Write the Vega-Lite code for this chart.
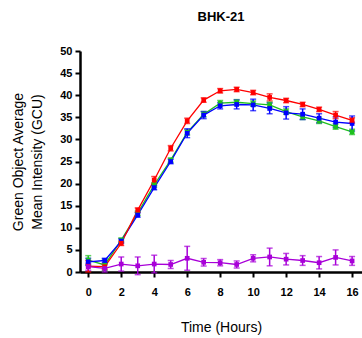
{
  "$schema": "https://vega.github.io/schema/vega-lite/v6.json",
  "autosize": "none",
  "padding": {"left": 80, "top": 51, "right": 0, "bottom": 66},
  "width": 282,
  "height": 221,
  "background": "white",
  "title": {"text": "BHK-21", "font": "Liberation Sans", "fontSize": 13, "fontWeight": "bold", "color": "black", "anchor": "middle", "offset": 21},
  "data": {"values": [
    {"s":"green","t":0,"m":2.7,"e":1.0},{"s":"green","t":1,"m":1.6,"e":1.3},{"s":"green","t":2,"m":7.2,"e":0.5},{"s":"green","t":3,"m":13.3,"e":0.5},{"s":"green","t":4,"m":19.7,"e":0.5},{"s":"green","t":5,"m":25.3,"e":0.5},{"s":"green","t":6,"m":31.6,"e":0.6},{"s":"green","t":7,"m":35.7,"e":0.6},{"s":"green","t":8,"m":38.2,"e":0.6},{"s":"green","t":9,"m":38.4,"e":0.6},{"s":"green","t":10,"m":38.1,"e":0.6},{"s":"green","t":11,"m":37.8,"e":0.6},{"s":"green","t":12,"m":36.3,"e":0.6},{"s":"green","t":13,"m":35.1,"e":0.6},{"s":"green","t":14,"m":34.2,"e":0.6},{"s":"green","t":15,"m":32.9,"e":0.6},{"s":"green","t":16,"m":31.7,"e":0.6},
    {"s":"blue","t":0,"m":2.3,"e":0.8},{"s":"blue","t":1,"m":2.6,"e":0.5},{"s":"blue","t":2,"m":7.0,"e":0.5},{"s":"blue","t":3,"m":12.9,"e":0.5},{"s":"blue","t":4,"m":19.1,"e":0.5},{"s":"blue","t":5,"m":25.0,"e":0.5},{"s":"blue","t":6,"m":31.4,"e":1.0},{"s":"blue","t":7,"m":35.5,"e":0.8},{"s":"blue","t":8,"m":37.6,"e":0.7},{"s":"blue","t":9,"m":37.9,"e":1.0},{"s":"blue","t":10,"m":37.8,"e":1.3},{"s":"blue","t":11,"m":37.0,"e":1.2},{"s":"blue","t":12,"m":36.0,"e":1.4},{"s":"blue","t":13,"m":35.7,"e":1.2},{"s":"blue","t":14,"m":34.8,"e":1.0},{"s":"blue","t":15,"m":33.9,"e":1.2},{"s":"blue","t":16,"m":33.6,"e":1.7},
    {"s":"red","t":0,"m":1.3,"e":1.3},{"s":"red","t":1,"m":1.2,"e":0.6},{"s":"red","t":2,"m":6.5,"e":0.5},{"s":"red","t":3,"m":14.0,"e":0.5},{"s":"red","t":4,"m":20.8,"e":0.8},{"s":"red","t":5,"m":28.0,"e":0.6},{"s":"red","t":6,"m":34.2,"e":0.6},{"s":"red","t":7,"m":38.9,"e":0.5},{"s":"red","t":8,"m":41.0,"e":0.5},{"s":"red","t":9,"m":41.3,"e":0.5},{"s":"red","t":10,"m":40.6,"e":0.5},{"s":"red","t":11,"m":39.5,"e":0.8},{"s":"red","t":12,"m":38.8,"e":0.5},{"s":"red","t":13,"m":37.9,"e":0.5},{"s":"red","t":14,"m":36.8,"e":0.5},{"s":"red","t":15,"m":35.5,"e":0.8},{"s":"red","t":16,"m":34.3,"e":0.6},
    {"s":"purple","t":0,"m":1.2,"e":0.8},{"s":"purple","t":1,"m":0.8,"e":0.8},{"s":"purple","t":2,"m":1.8,"e":1.6},{"s":"purple","t":3,"m":1.4,"e":2.0},{"s":"purple","t":4,"m":1.8,"e":2.0},{"s":"purple","t":5,"m":1.7,"e":0.9},{"s":"purple","t":6,"m":3.1,"e":2.7},{"s":"purple","t":7,"m":2.2,"e":0.85},{"s":"purple","t":8,"m":2.1,"e":0.7},{"s":"purple","t":9,"m":1.7,"e":0.8},{"s":"purple","t":10,"m":3.1,"e":0.8},{"s":"purple","t":11,"m":3.4,"e":2.0},{"s":"purple","t":12,"m":2.9,"e":1.3},{"s":"purple","t":13,"m":2.6,"e":1.1},{"s":"purple","t":14,"m":2.1,"e":1.4},{"s":"purple","t":15,"m":3.3,"e":1.7},{"s":"purple","t":16,"m":2.5,"e":1.0}
  ]},
  "encoding": {
    "x": {"field": "t", "type": "quantitative",
      "scale": {"domain": [-0.5, 16.6], "nice": false, "zero": false},
      "axis": {"values": [0,2,4,6,8,10,12,14,16], "title": "Time (Hours)", "grid": false,
        "domainColor": "black", "domainWidth": 2.5, "tickColor": "black", "tickWidth": 2, "tickSize": 5,
        "labelFont": "Liberation Sans", "labelFontWeight": "bold", "labelFontSize": 11, "labelColor": "black", "labelPadding": 9,
        "titleFont": "Liberation Sans", "titleFontWeight": "normal", "titleFontSize": 14, "titleColor": "black", "titlePadding": 20, "titleY": 48}},
    "y": {"field": "m", "type": "quantitative",
      "scale": {"domain": [0, 50], "nice": false},
      "axis": {"values": [0,5,10,15,20,25,30,35,40,45,50], "title": ["Green Object Average", "Mean Intensity (GCU)"], "grid": false,
        "domainColor": "black", "domainWidth": 2.5, "tickColor": "black", "tickWidth": 2, "tickSize": 5,
        "labelFont": "Liberation Sans", "labelFontWeight": "bold", "labelFontSize": 11, "labelColor": "black", "labelPadding": 3,
        "titleFont": "Liberation Sans", "titleFontWeight": "normal", "titleFontSize": 14, "titleColor": "black", "titlePadding": 15, "titleLineHeight": 19}},
    "color": {"field": "s", "type": "nominal", "legend": null,
      "scale": {"domain": ["green","blue","red","purple"], "range": ["#1EC01E","#0000FF","#FF0000","#A800D8"]}},
    "detail": {"field": "s"}
  },
  "layer": [
    {"mark": {"type": "line", "strokeWidth": 1.3, "clip": true}},
    {"mark": {"type": "errorbar", "ticks": {"size": 6, "thickness": 1.5}, "thickness": 1.5}, "encoding": {"yError": {"field": "e"}}},
    {"mark": {"type": "point", "shape": "square", "filled": true, "size": 22, "opacity": 1}}
  ],
  "config": {"view": {"stroke": null}}
}
